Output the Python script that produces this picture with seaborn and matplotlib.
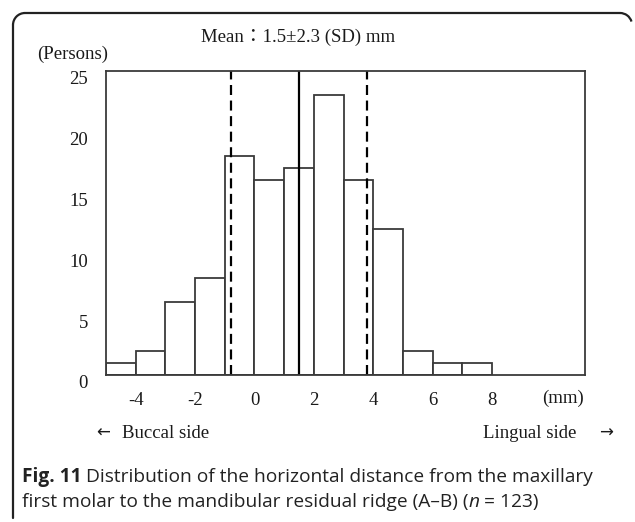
import matplotlib
matplotlib.use("Agg")
import matplotlib.pyplot as plt
import matplotlib.transforms as mtransforms
from matplotlib.patches import Arc
from matplotlib.lines import Line2D
import seaborn as sns
import numpy as np

# ---- data ----
bin_edges = [-5, -4, -3, -2, -1, 0, 1, 2, 3, 4, 5, 6, 7, 8]
counts = [1, 2, 6, 8, 18, 16, 17, 23, 16, 12, 2, 1, 1]
mean_val = 1.5
sd_val = 2.3
x_ticks = [-4, -2, 0, 2, 4, 6, 8]
y_ticks = [0, 5, 10, 15, 20, 25]

centers = [(a + b) / 2 for a, b in zip(bin_edges[:-1], bin_edges[1:])]

sns.set_theme(style="white")
plt.rcParams['font.family'] = ['Liberation Serif', 'Noto Sans CJK JP', 'DejaVu Sans']

W, H = 635, 522
fig = plt.figure(figsize=(W / 100, H / 100), dpi=100)
fig.patch.set_facecolor("white")

def fx(px):
    return px / W

def fy(py):
    return 1 - py / H

ax_l, ax_r, ax_t, ax_b = 106, 585, 71, 375
ax = fig.add_axes([fx(ax_l), fy(ax_b), (ax_r - ax_l) / W, (ax_b - ax_t) / H])

edge = "#3a3a3a"
sns.histplot(x=centers, weights=counts, bins=bin_edges, ax=ax,
             color="white", edgecolor=edge, linewidth=1.3, alpha=1.0)

ax.set_xlim(-5, -5 + (ax_r - ax_l) / 29.7)
ax.set_ylim(0, 25)

ax.axvline(mean_val, color="black", lw=1.6)
for v in (mean_val - sd_val, mean_val + sd_val):
    ax.axvline(v, color="black", lw=1.6, dashes=(4.5, 2.5))

for s in ax.spines.values():
    s.set_visible(True)
    s.set_color(edge)
    s.set_linewidth(1.3)

tfs = 13.5
ax.set_xticks(x_ticks)
ax.set_xticklabels([str(t) for t in x_ticks])
ax.set_yticks(y_ticks)
ax.set_yticklabels([str(t) for t in y_ticks])
ax.tick_params(axis="both", length=0, labelsize=tfs, colors="#1a1a1a")
ax.tick_params(axis="x", pad=12)
ax.tick_params(axis="y", pad=13)
ax.set_xlabel("")
ax.set_ylabel("")
off = mtransforms.ScaledTranslation(0, -7 / 100, fig.dpi_scale_trans)
for lab in ax.get_yticklabels():
    lab.set_transform(lab.get_transform() + off)

# texts
tc = "#1a1a1a"
fig.text(fx(298), fy(37), "Mean\uff1a1.5\u00b12.3 (SD) mm", ha="center", va="center",
         fontsize=tfs, color=tc)
fig.text(fx(37), fy(54), "(Persons)", ha="left", va="center", fontsize=tfs, color=tc)
fig.text(fx(563), fy(398), "(mm)", ha="center", va="center", fontsize=tfs, color=tc)
fig.text(fx(96), fy(433), "\u2190", ha="left", va="center", fontsize=12,
         family=['DejaVu Sans'], color=tc)
fig.text(fx(122), fy(433), "Buccal side", ha="left", va="center", fontsize=tfs, color=tc)
fig.text(fx(576), fy(433), "Lingual side", ha="right", va="center", fontsize=tfs, color=tc)
fig.text(fx(599), fy(433), "\u2192", ha="left", va="center", fontsize=12,
         family=['DejaVu Sans'], color=tc)

# caption
cap_font = ['Open Sans', 'DejaVu Sans']
cfs = 13.8
cc = "#222222"
t1 = fig.text(fx(22), fy(477), "Fig. 11", ha="left", va="center", fontsize=cfs,
              weight="bold", family=cap_font, color=cc)
fig.canvas.draw()
bb = t1.get_window_extent()
fig.text((bb.x1 + 4) / W, fy(477), "Distribution of the horizontal distance from the maxillary",
         ha="left", va="center", fontsize=cfs, family=cap_font, color=cc)
t2 = fig.text(fx(22), fy(502), "first molar to the mandibular residual ridge (A\u2013B) (",
              ha="left", va="center", fontsize=cfs, family=cap_font, color=cc)
fig.canvas.draw()
bb2 = t2.get_window_extent()
t3 = fig.text(bb2.x1 / W, fy(502), "n", ha="left", va="center", fontsize=cfs,
              style="italic", family=cap_font, color=cc)
fig.canvas.draw()
bb3 = t3.get_window_extent()
fig.text(bb3.x1 / W, fy(502), " = 123)", ha="left", va="center", fontsize=cfs,
         family=cap_font, color=cc)

# frame border (left + top, rounded corners)
r = 12
bl, bt, br = 13, 13, 632
lc = "#222222"
fig.add_artist(Line2D([fx(bl), fx(bl)], [fy(bt + r), fy(518)], color=lc, lw=1.6,
                      transform=fig.transFigure))
fig.add_artist(Line2D([fx(bl + r), fx(br - r)], [fy(bt), fy(bt)], color=lc, lw=1.6,
                      transform=fig.transFigure))
fig.add_artist(Arc((fx(bl + r), fy(bt + r)), 2 * r / W, 2 * r / H, theta1=90, theta2=180,
                   color=lc, lw=1.6, transform=fig.transFigure))
fig.add_artist(Arc((fx(br - r), fy(bt + r)), 2 * r / W, 2 * r / H, theta1=20, theta2=90,
                   color=lc, lw=1.6, transform=fig.transFigure))

fig.savefig("out.png", dpi=100)
